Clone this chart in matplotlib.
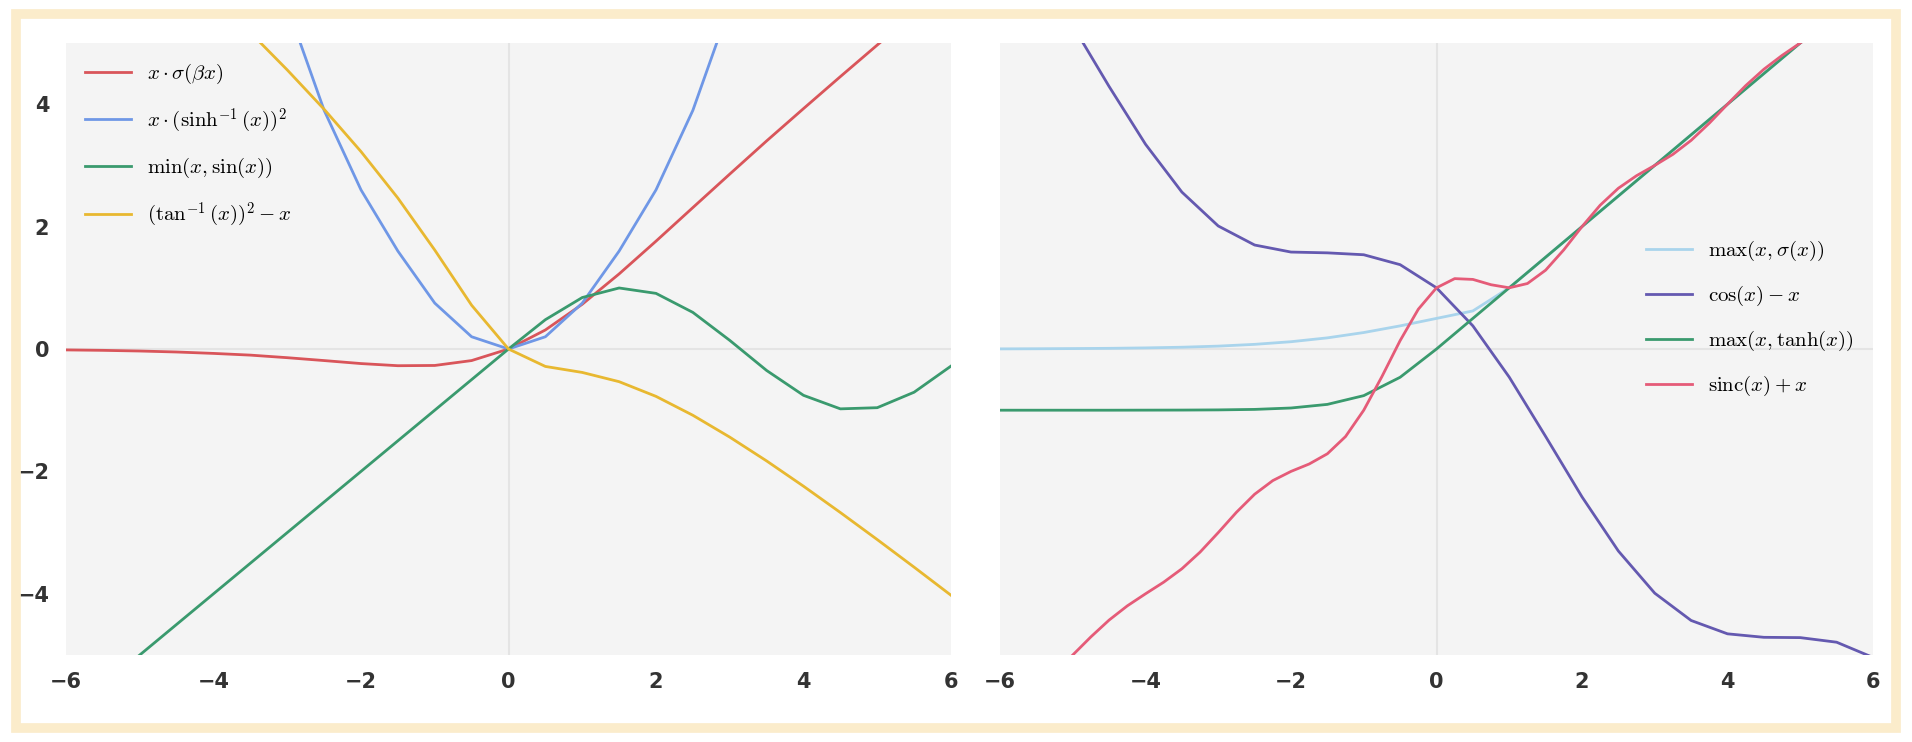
import matplotlib
matplotlib.use("Agg")
import matplotlib.pyplot as plt
from matplotlib.patches import Rectangle

plt.rcParams["mathtext.fontset"] = "cm"

# ── data ────────────────────────────────────────────────────────
x_coarse = [-6, -5.5, -5, -4.5, -4, -3.5, -3, -2.5, -2, -1.5, -1, -0.5, 0,
            0.5, 1, 1.5, 2, 2.5, 3, 3.5, 4, 4.5, 5, 5.5, 6]

swish_y = [-0.015, -0.022, -0.033, -0.049, -0.072, -0.100, -0.142, -0.189, -0.238,
           -0.273, -0.269, -0.189, 0.0, 0.311, 0.731, 1.227, 1.762, 2.311, 2.858,
           3.400, 3.928, 4.451, 4.967, 5.478, 5.985]

x_asinh = [-3.25, -3, -2.5, -2, -1.5, -1, -0.5, 0, 0.5, 1, 1.5, 2, 2.5, 3, 3.25]
asinh_y = [6.5, 5.6, 3.9, 2.6, 1.6, 0.75, 0.2, 0.0, 0.2, 0.75, 1.6, 2.6, 3.9, 5.6, 6.5]

minsin_y = [-6, -5.5, -5, -4.5, -4, -3.5, -3, -2.5, -2, -1.5, -1, -0.5, 0.0,
            0.479, 0.841, 0.997, 0.909, 0.598, 0.141, -0.351, -0.757, -0.978,
            -0.959, -0.706, -0.279]

atan_y = [7.976, 7.435, 6.886, 6.328, 5.758, 5.171, 4.560, 3.917, 3.226, 2.466, 1.617,
          0.715, 0.0, -0.285, -0.383, -0.534, -0.774, -1.083, -1.440, -1.829,
          -2.242, -2.672, -3.114, -3.565, -4.024]

maxsig_y = [0.002, 0.004, 0.007, 0.011, 0.018, 0.029, 0.047, 0.076, 0.119, 0.182,
            0.269, 0.378, 0.5, 0.622, 1.0, 1.5, 2.0, 2.5, 3.0, 3.5, 4.0, 4.5, 5.0,
            5.5, 6.0]

cosx_y = [6.96, 6.209, 5.284, 4.289, 3.346, 2.564, 2.010, 1.699, 1.584, 1.571, 1.540,
          1.378, 1.0, 0.378, -0.460, -1.429, -2.416, -3.301, -3.990, -4.436, -4.654,
          -4.711, -4.716, -4.791, -5.040]

maxtanh_y = [-1.0, -1.0, -1.0, -1.0, -0.999, -0.998, -0.995, -0.987, -0.964, -0.905,
             -0.762, -0.462, 0.0, 0.5, 1.0, 1.5, 2.0, 2.5, 3.0, 3.5, 4.0, 4.5, 5.0,
             5.5, 6.0]

x_fine = [-5, -4.75, -4.5, -4.25, -4, -3.75, -3.5, -3.25, -3, -2.75, -2.5, -2.25,
          -2, -1.75, -1.5, -1.25, -1, -0.75, -0.5, -0.25, 0, 0.25, 0.5, 0.75, 1,
          1.25, 1.5, 1.75, 2, 2.25, 2.5, 2.75, 3, 3.25, 3.5, 3.75, 4, 4.25, 4.5,
          4.75, 5, 5.25]
sinc_y = [-5, -4.703, -4.429, -4.197, -4, -3.810, -3.591, -3.319, -3, -2.668, -2.373,
          -2.150, -2, -1.879, -1.712, -1.430, -1, -0.450, 0.137, 0.650, 1.0, 1.150,
          1.137, 1.050, 1.0, 1.070, 1.288, 1.621, 2.0, 2.350, 2.627, 2.832, 3.0,
          3.181, 3.409, 3.690, 4.0, 4.303, 4.571, 4.797, 5.0, 5.207]

left_series = [
    (x_coarse, swish_y, "#d9555a", r"$x\cdot\sigma(\beta x)$"),
    (x_asinh, asinh_y, "#6f97e6", r"$x\cdot(\sinh^{-1}(x))^2$"),
    (x_coarse, minsin_y, "#3a9a6e", r"$\min(x,\sin(x))$"),
    (x_coarse, atan_y, "#e8b830", r"$(\tan^{-1}(x))^2-x$"),
]
right_series = [
    (x_coarse, maxsig_y, "#a9d4ec", r"$\max(x,\sigma(x))$"),
    (x_coarse, cosx_y, "#6459b0", r"$\cos(x)-x$"),
    (x_coarse, maxtanh_y, "#3a9a6e", r"$\max(x,\tanh(x))$"),
    (x_fine, sinc_y, "#e55b78", r"$\mathrm{sinc}(x)+x$"),
]

fig = plt.figure(figsize=(19.12, 7.42), dpi=100, facecolor="white")
fig.patches.append(Rectangle((16 / 1912, 14 / 742), 1880 / 1912, 714 / 742,
                             transform=fig.transFigure, fill=False,
                             edgecolor="#fbeccb", linewidth=7))


def style(ax):
    ax.set_facecolor("#f4f4f4")
    for s in ax.spines.values():
        s.set_visible(False)
    ax.set_xlim(-6, 6)
    ax.set_ylim(-5, 5)
    ax.set_xticks([-6, -4, -2, 0, 2, 4, 6])
    ax.axhline(0, color="#e4e4e4", lw=1.5, zorder=0)
    ax.axvline(0, color="#e4e4e4", lw=1.5, zorder=0)
    ax.tick_params(length=0, labelsize=15, colors="#333333", pad=12)
    for t in ax.get_xticklabels() + ax.get_yticklabels():
        t.set_fontweight("bold")


ax1 = fig.add_axes([66 / 1912, 87 / 742, 885 / 1912, 612 / 742])
ax1.set_yticks([-4, -2, 0, 2, 4])
style(ax1)
for xs, ys, c, lab in left_series:
    ax1.plot(xs, ys, color=c, lw=2, label=lab)
ax1.legend(loc="upper left", frameon=False, fontsize=15, handlelength=2.2,
           labelspacing=1.0)

ax2 = fig.add_axes([1000 / 1912, 87 / 742, 873 / 1912, 612 / 742])
ax2.set_yticks([])
style(ax2)
for xs, ys, c, lab in right_series:
    ax2.plot(xs, ys, color=c, lw=2, label=lab)
ax2.legend(loc="center right", frameon=False, fontsize=15, handlelength=2.2,
           labelspacing=1.0, bbox_to_anchor=(1.0, 0.55))

fig.savefig("out.png", dpi=100)
